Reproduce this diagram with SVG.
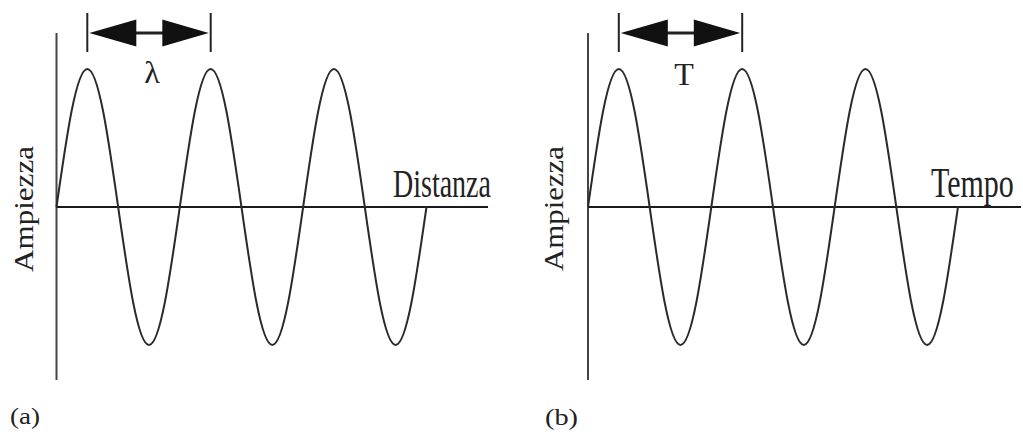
<svg xmlns="http://www.w3.org/2000/svg" xmlns:xlink="http://www.w3.org/1999/xlink" width="1023" height="434" viewBox="0 0 1023 434">
  <style>
    .axis { stroke: #1a1a1a; stroke-width: 2; fill: none; }
    .vaxis { stroke: #444; stroke-width: 2; fill: none; }
    .wave { stroke: #2a2a2a; stroke-width: 2; fill: none; stroke-linejoin: round; }
    .tick { stroke: #222; stroke-width: 2; }
    .shaft { stroke: #222; stroke-width: 3; }
    .head { fill: #111; }
    .lbl { font-family: "Liberation Serif", "Times New Roman", serif; fill: #222; }
  </style>
  <defs>
    <path id="wave" d="M0,0 c10.06,-70.7 19.68,-138 30.83,-138 c11.15,0 20.77,67.3 30.83,138 c10.06,70.7 19.68,138 30.83,138 c11.15,0 20.77,-67.3 30.83,-138 c10.06,-70.7 19.68,-138 30.83,-138 c11.15,0 20.77,67.3 30.83,138 c10.06,70.7 19.68,138 30.83,138 c11.15,0 20.77,-67.3 30.83,-138 c10.06,-70.7 19.68,-138 30.83,-138 c11.15,0 20.77,67.3 30.83,138 c10.06,70.7 19.68,138 30.83,138 c11.15,0 20.77,-67.3 30.83,-138"/>
    <g id="dim">
      <line class="tick" x1="0" y1="-20" x2="0" y2="19"/>
      <line class="tick" x1="123.4" y1="-20" x2="123.4" y2="19"/>
      <line class="shaft" x1="48" y1="0" x2="76" y2="0"/>
      <polygon class="head" points="2,0 49,-13.5 49,13.5"/>
      <polygon class="head" points="121.4,0 75,-13.5 75,13.5"/>
    </g>
  </defs>

  <g id="panel-a">
    <line class="vaxis" x1="56.5" y1="33" x2="56.5" y2="380"/>
    <line class="axis" x1="56.5" y1="207" x2="488" y2="207"/>
    <use href="#wave" xlink:href="#wave" class="wave" x="56.5" y="207"/>
    <text class="lbl" transform="translate(393,197) scale(1,1.4)" font-size="28">Distanza</text>
    <text class="lbl" transform="translate(33,272) rotate(-90)" font-size="27" textLength="126" lengthAdjust="spacingAndGlyphs">Ampiezza</text>
    <text class="lbl" x="152" y="83" font-size="32" text-anchor="middle">λ</text>
    <text class="lbl" x="10" y="424" font-size="24" textLength="30" lengthAdjust="spacingAndGlyphs">(a)</text>
  </g>

  <g id="panel-b">
    <line class="vaxis" x1="588" y1="33" x2="588" y2="380"/>
    <line class="axis" x1="588" y1="207" x2="1021" y2="207"/>
    <use href="#wave" xlink:href="#wave" class="wave" x="588" y="207"/>
    <text class="lbl" transform="translate(931,197) scale(1,1.38)" font-size="30">Tempo</text>
    <text class="lbl" transform="translate(563,271) rotate(-90)" font-size="27" textLength="125" lengthAdjust="spacingAndGlyphs">Ampiezza</text>
    <text class="lbl" x="684" y="85" font-size="32" text-anchor="middle">T</text>
    <text class="lbl" x="545" y="425" font-size="24" textLength="33" lengthAdjust="spacingAndGlyphs">(b)</text>
  </g>

  <g id="connectors">
    <use href="#dim" xlink:href="#dim" x="87.3" y="33"/>
    <use href="#dim" xlink:href="#dim" x="618.8" y="33"/>
  </g>
</svg>
